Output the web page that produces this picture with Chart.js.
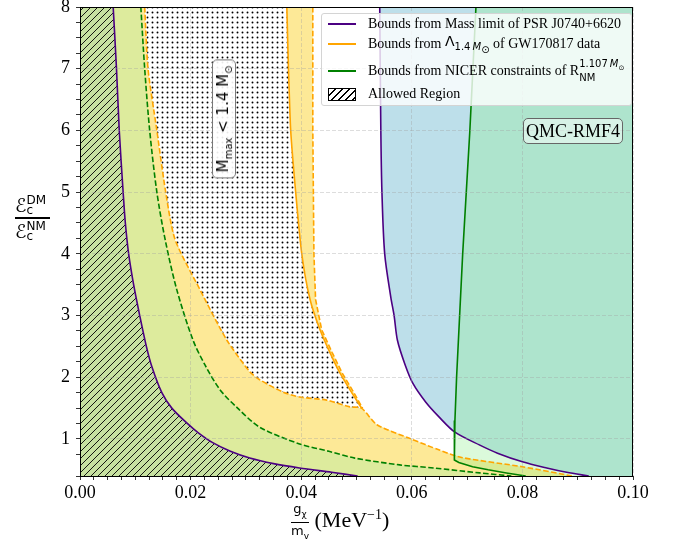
<!DOCTYPE html>
<html>
<head>
<meta charset="utf-8">
<script src="https://cdn.jsdelivr.net/npm/chart.js@4.4.1/dist/chart.umd.min.js"></script>
<style>
body { margin: 0; background: #fff; }
#wrap { position: relative; width: 688px; height: 550px; }
canvas { position: absolute; left: 0; top: 0; }
.ov { position: absolute; white-space: nowrap; color: #000; }
.m { font-family: 'DejaVu Sans', sans-serif; }

#legend { left: 321px; top: 13px; width: 309px; height: 91px; background: rgba(255,255,255,0.8);
  border: 1px solid #d4d4d4; border-radius: 3px; font-family: 'Liberation Serif', serif; font-size: 14px; }
.row { position: absolute; left: 0; height: 20px; display: flex; align-items: center; }
.sw { width: 28px; height: 2px; margin-left: 6px; margin-right: 12px; }
.hs { width: 26px; height: 11px; margin-left: 6px; margin-right: 12px; border: 1px solid #000;
  background: repeating-linear-gradient(135deg, #fff 0 4px, #000 4px 5px); }
.row sub, .row sup { font-size: 10px; }
.stk { display: inline-block; vertical-align: middle; line-height: 10px; }
.stk span { display: block; }

#mmax { left: 224px; top: 119px; transform: translate(-50%, -50%) rotate(-90deg);
  font-family: 'DejaVu Sans', sans-serif; font-size: 15px; padding: 1px 5px;
  background: rgba(255,255,255,0.9); border: 1px solid #777; border-radius: 5px; }
#mmax sub { font-size: 10px; }

#qmc { left: 523px; top: 118px; width: 98px; height: 24px; line-height: 24px; text-align: center;
  font-family: 'Liberation Serif', serif; font-size: 18px; background: rgba(255,255,255,0.5);
  border: 1px solid #666; border-radius: 5px; }

#ylab { left: 15px; top: 194px; font-family: 'DejaVu Sans', sans-serif; font-size: 19px; }
.fn { height: 22px; line-height: 22px; }
.fn .stk { font-size: 12px; vertical-align: top; margin-top: 1px; }
.bar { height: 2px; background: #000; margin: 1px 0 1px 0; width: 35px; }

#xlab { left: 291px; top: 502px; font-family: 'Liberation Serif', serif; font-size: 22px; }
.xf { display: inline-block; vertical-align: middle; text-align: center; font-family: 'DejaVu Sans', sans-serif;
  font-size: 13px; line-height: 13px; }
.xf sub { font-size: 9px; }
.xb { display: block; height: 1px; background: #000; margin: 1px 0; }
#xlab sup { font-size: 14px; }
</style>
</head>
<body>
<div id="wrap">
  <canvas id="chart" width="688" height="550"></canvas>

  <div class="ov" id="legend">
    <div class="row" style="top:0px"><div class="sw" style="background:#4b0082"></div>Bounds from Mass limit of PSR J0740+6620</div>
    <div class="row" style="top:20px"><div class="sw" style="background:#ffa500"></div>Bounds from&nbsp;<span class="m">Λ<sub>1.4&thinsp;<i>M</i><sub>⊙</sub></sub></span>&nbsp;of GW170817 data</div>
    <div class="row" style="top:47px"><div class="sw" style="background:#008000"></div>Bounds from NICER constraints of R<span class="stk m" style="font-size:10px"><span>1.107&thinsp;<i>M</i><sub style="font-size:7px">⊙</sub></span><span>NM</span></span></div>
    <div class="row" style="top:70px"><div class="hs"></div>Allowed Region</div>
  </div>

  <div class="ov" id="mmax">M<sub>max</sub> &lt; 1.4 M<sub>⊙</sub></div>
  <div class="ov" id="qmc">QMC-RMF4</div>

  <div class="ov" id="ylab">
    <div class="fn">ℰ<span class="stk"><span>DM</span><span>c</span></span></div>
    <div class="bar"></div>
    <div class="fn">ℰ<span class="stk"><span>NM</span><span>c</span></span></div>
  </div>

  <div class="ov" id="xlab"><span class="xf"><span>g<sub>χ</sub></span><span class="xb"></span><span>m<sub>v</sub></span></span> (MeV<sup>−1</sup>)</div>
</div>

<script>
// axis limits
const X_MIN = 0, X_MAX = 0.1, Y_MIN = 0.4, Y_MAX = 8;

// bound curves: x = g/m (MeV^-1), y = eps_DM / eps_NM
// mass limit of PSR J0740+6620 (purple), lower and upper branch
const massLoY = [8, 7, 6, 5, 4.5, 4, 3.5, 3, 2.5, 2.17, 1.75, 1.5, 1.26, 1.1, 0.94, 0.8, 0.69, 0.6, 0.53, 0.46, 0.4];
const massLoX = [0.0060, 0.0066, 0.0071, 0.0078, 0.0082, 0.0088, 0.0097, 0.0108, 0.0120, 0.0130, 0.0148, 0.0166, 0.0193, 0.0214, 0.0240, 0.0272, 0.0307, 0.0350, 0.0397, 0.0455, 0.0502];
const massHiY = [8, 6, 5, 4, 3.3, 3, 2.6, 2.2, 1.9, 1.6, 1.35, 1.11, 0.9, 0.77, 0.63, 0.53, 0.46, 0.4];
const massHiX = [0.0542, 0.0544, 0.0546, 0.0551, 0.0562, 0.0568, 0.0574, 0.0588, 0.0602, 0.0625, 0.0650, 0.0678, 0.0723, 0.0755, 0.0800, 0.0844, 0.0880, 0.0920];

// tidal deformability of GW170817 (orange)
const lamLoY = [8, 7, 6, 5, 4.23, 3.42, 2.61, 2.09, 1.96, 1.76, 1.68, 1.63, 1.52, 1.5, 1.23, 1.0, 0.82, 0.7, 0.55, 0.4];
const lamLoX = [0.0117, 0.0123, 0.0139, 0.0155, 0.0172, 0.0217, 0.0265, 0.0307, 0.0325, 0.0367, 0.0397, 0.0446, 0.0488, 0.0509, 0.0537, 0.0599, 0.0650, 0.0690, 0.0800, 0.0890];
const lamMidY = [8, 7, 6, 5, 4, 3.26, 2.77, 2.4, 2.07, 1.8, 1.5];
const lamMidX = [0.0374, 0.0377, 0.0381, 0.0390, 0.0401, 0.0416, 0.0434, 0.0452, 0.0470, 0.0488, 0.0509];
const lamHiY = [8, 6, 4, 3.26, 2.77, 2.4, 2.07, 1.8, 1.5];
const lamHiX = [0.0421, 0.0421, 0.0423, 0.0426, 0.0437, 0.0456, 0.0474, 0.0492, 0.0511];
const KINK_Y = 1.5;

// NICER radius constraint (green)
const nicerLoY = [8, 7, 6, 5, 4.23, 3.42, 2.61, 2.2, 1.8, 1.5, 1.19, 0.92, 0.8, 0.69, 0.58, 0.53, 0.45, 0.4];
const nicerLoX = [0.0110, 0.0117, 0.0126, 0.0139, 0.0154, 0.0175, 0.0204, 0.0226, 0.0253, 0.0285, 0.0325, 0.0397, 0.0450, 0.0497, 0.0578, 0.0640, 0.0723, 0.0780];
const nicerHiY = [8, 6, 4, 2, 1.3, 0.66, 0.62, 0.55, 0.5, 0.45, 0.4];
const nicerHiX = [0.0716, 0.0705, 0.0692, 0.0681, 0.0678, 0.0677, 0.0685, 0.0710, 0.0738, 0.0771, 0.0806];

const PURPLE = '#4b0082', ORANGE = '#ffa500', GREEN = '#008000';

const pts = (xs, ys) => xs.map((x, i) => ({ x, y: ys[i] }));

// fill patterns
function hatchPattern() {
    const n = 7;
    const c = document.createElement('canvas');
    c.width = n; c.height = n;
    const g = c.getContext('2d');
    g.fillStyle = '#c7e1a1';
    g.fillRect(0, 0, n, n);
    g.strokeStyle = '#000';
    g.lineWidth = 0.9;
    g.beginPath();
    g.moveTo(-1, n + 1); g.lineTo(n + 1, -1);
    g.moveTo(-1, 1); g.lineTo(1, -1);
    g.moveTo(n - 1, n + 1); g.lineTo(n + 1, n - 1);
    g.stroke();
    return g.createPattern(c, 'repeat');
}
function dotPattern() {
    const c = document.createElement('canvas');
    c.width = 5; c.height = 5;
    const g = c.getContext('2d');
    g.fillStyle = '#fff';
    g.fillRect(0, 0, 5, 5);
    g.fillStyle = '#000';
    g.beginPath();
    g.arc(2.5, 2.5, 0.95, 0, Math.PI * 2);
    g.fill();
    return g.createPattern(c, 'repeat');
}

const edge = y => ({ x: X_MIN, y });
const kinkIdx = lamLoY.indexOf(KINK_Y);

// regions, painted bottom to top
const regions = [
    { pts: [edge(Y_MAX), ...pts(lamLoX, lamLoY), edge(Y_MIN)], color: '#fde997' },
    { pts: [edge(Y_MAX), ...pts(nicerLoX, nicerLoY), edge(Y_MIN)], color: '#ddeb9d' },
    { pts: [edge(Y_MAX), ...pts(massLoX, massLoY), edge(Y_MIN)], color: hatchPattern() },
    { pts: [...pts(lamLoX, lamLoY).slice(0, kinkIdx + 1), ...pts(lamMidX, lamMidY).reverse()], color: dotPattern() },
    { pts: [...pts(lamMidX, lamMidY), ...pts(lamHiX, lamHiY).reverse()], color: '#fde997' },
    { pts: [...pts(massHiX, massHiY), { x: X_MAX, y: Y_MIN }, { x: X_MAX, y: Y_MAX }], color: 'rgb(189,223,234)' },
    { pts: [...pts(nicerHiX, nicerHiY), { x: X_MAX, y: Y_MIN }, { x: X_MAX, y: Y_MAX }], color: 'rgba(144,238,144,0.32)' }
];

const curves = [
    { xs: nicerLoX, ys: nicerLoY, color: GREEN, dash: [5.5, 2.4], tension: 0.3 },
    { xs: lamLoX, ys: lamLoY, color: ORANGE, dash: [5.5, 2.4], tension: 0.25 },
    { xs: lamHiX, ys: lamHiY, color: ORANGE, dash: [5.5, 2.4], tension: 0 },
    { xs: lamMidX, ys: lamMidY, color: ORANGE, dash: [], tension: 0.2 },
    { xs: massLoX, ys: massLoY, color: PURPLE, dash: [], tension: 0.3 },
    { xs: massHiX, ys: massHiY, color: PURPLE, dash: [], tension: 0.3 },
    { xs: nicerHiX, ys: nicerHiY, color: GREEN, dash: [], tension: 0 }
];

const layers = [];
regions.forEach(r => layers.push({
    data: r.pts, fill: 'shape', backgroundColor: r.color,
    borderWidth: 0, borderColor: 'rgba(0,0,0,0)', pointRadius: 0, tension: 0
}));
curves.forEach(c => layers.push({
    data: pts(c.xs, c.ys), fill: false, borderColor: c.color, borderWidth: 1.6,
    borderDash: c.dash, pointRadius: 0, tension: c.tension
}));
// first in list is painted first (lowest)
layers.forEach((d, i) => { d.order = layers.length - i; });

const isMult = (v, s) => Math.abs(v / s - Math.round(v / s)) < 1e-6;
const gridColor = s => ctx => isMult(ctx.tick.value, s) ? 'rgba(160,160,160,0.45)' : 'rgba(0,0,0,0)';

const frame = {
    id: 'frame',
    afterDraw(chart) {
        const a = chart.chartArea, g = chart.ctx;
        g.save();
        g.strokeStyle = '#000';
        g.lineWidth = 1;
        g.strokeRect(a.left + 0.5, a.top + 0.5, a.right - a.left - 1, a.bottom - a.top);
        g.restore();
    }
};

const tickFont = { family: "'Liberation Serif', serif", size: 18 };

new Chart(document.getElementById('chart'), {
    type: 'line',
    data: { datasets: layers },
    options: {
        responsive: false,
        animation: false,
        layout: { padding: { top: 7, right: 55, left: 0, bottom: 0 } },
        plugins: { legend: { display: false }, tooltip: { enabled: false } },
        scales: {
            x: {
                type: 'linear', min: X_MIN, max: X_MAX,
                grid: { z: 1, color: gridColor(0.02), lineWidth: 0.8, tickColor: '#000', tickLength: 4, tickWidth: 0.8 },
                border: { display: false, dash: [4, 2] },
                ticks: {
                    stepSize: 0.0025, autoSkip: false, maxRotation: 0, color: '#000', font: tickFont, padding: 2,
                    callback: v => isMult(v, 0.02) ? v.toFixed(2) : ''
                },
                afterFit: s => { s.height = 74; }
            },
            y: {
                type: 'linear', min: Y_MIN, max: Y_MAX,
                grid: { z: 1, color: gridColor(1), lineWidth: 0.8, tickColor: '#000', tickLength: 4, tickWidth: 0.8 },
                border: { display: false, dash: [4, 2] },
                ticks: {
                    stepSize: 0.25, autoSkip: false, color: '#000', font: tickFont, padding: 6,
                    callback: v => isMult(v, 1) ? String(v) : ''
                },
                afterFit: s => { s.width = 80; s.paddingTop = 0; s.paddingBottom = 0; }
            }
        }
    },
    plugins: [frame]
});
</script>
</body>
</html>
